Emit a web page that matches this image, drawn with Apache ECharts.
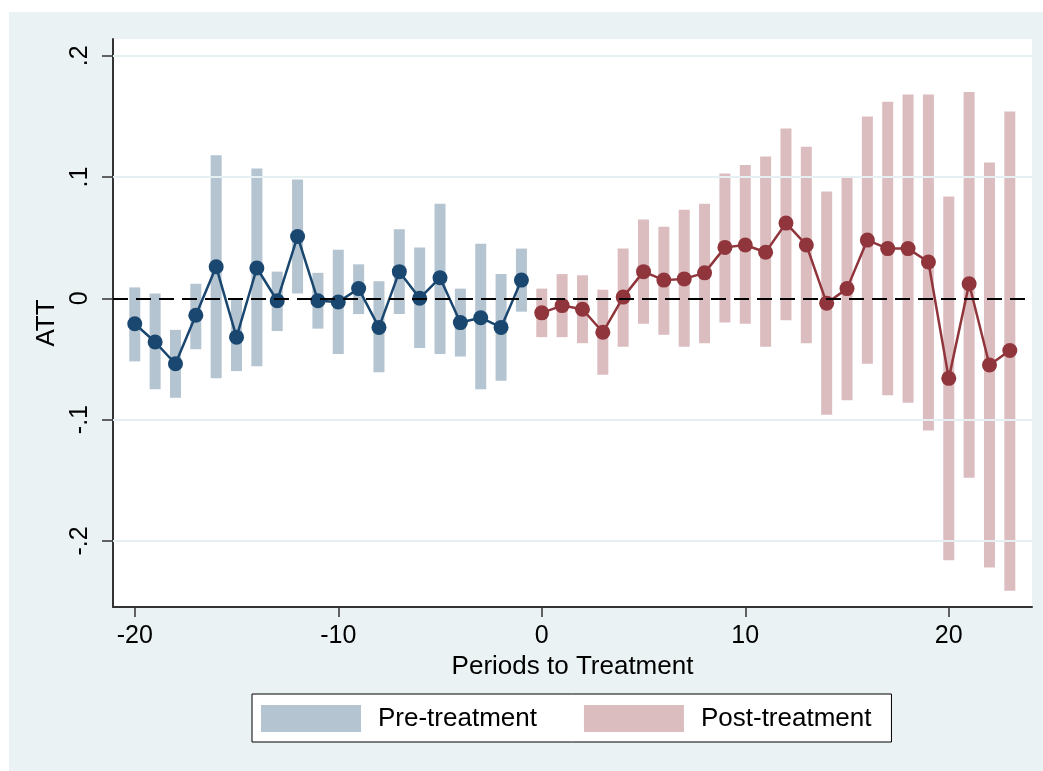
<!DOCTYPE html>
<html>
<head>
<meta charset="utf-8">
<script src="https://cdn.jsdelivr.net/npm/echarts@6/dist/echarts.min.js"></script>
<style>
  html, body { margin: 0; padding: 0; background: #ffffff; }
  #bg { position: absolute; left: 9px; top: 12px; width: 1034px; height: 759px; background: #EAF2F3; }
  #chart { position: absolute; left: 0; top: 0; width: 1043px; height: 771px; }
</style>
</head>
<body>
<div id="bg"></div>
<div id="chart"></div>
<script>
// ---- data ----
const periodsPre = [-20, -19, -18, -17, -16, -15, -14, -13, -12, -11, -10, -9, -8, -7, -6, -5, -4, -3, -2, -1];
const attPre   = [-0.021, -0.036, -0.054, -0.014, 0.026, -0.032, 0.025, -0.002, 0.051, -0.002, -0.003, 0.008, -0.024, 0.022, 0.000, 0.017, -0.020, -0.016, -0.024, 0.015];
const ciHighPre = [0.009, 0.004, -0.026, 0.012, 0.118, -0.001, 0.107, 0.022, 0.098, 0.021, 0.040, 0.028, 0.014, 0.057, 0.042, 0.078, 0.008, 0.045, 0.020, 0.041];
const ciLowPre  = [-0.052, -0.075, -0.082, -0.042, -0.066, -0.060, -0.056, -0.027, 0.004, -0.025, -0.046, -0.013, -0.061, -0.013, -0.041, -0.046, -0.048, -0.075, -0.068, -0.011];

const periodsPost = [0, 1, 2, 3, 4, 5, 6, 7, 8, 9, 10, 11, 12, 13, 14, 15, 16, 17, 18, 19, 20, 21, 22, 23];
const attPost   = [-0.012, -0.006, -0.009, -0.028, 0.001, 0.022, 0.015, 0.016, 0.021, 0.042, 0.044, 0.038, 0.062, 0.044, -0.004, 0.008, 0.048, 0.041, 0.041, 0.030, -0.066, 0.012, -0.055, -0.043];
const ciHighPost = [0.008, 0.020, 0.019, 0.007, 0.041, 0.065, 0.059, 0.073, 0.078, 0.103, 0.110, 0.117, 0.140, 0.125, 0.088, 0.100, 0.150, 0.162, 0.168, 0.168, 0.084, 0.170, 0.112, 0.154];
const ciLowPost  = [-0.032, -0.032, -0.037, -0.063, -0.040, -0.021, -0.030, -0.040, -0.037, -0.020, -0.021, -0.040, -0.018, -0.037, -0.096, -0.084, -0.054, -0.080, -0.086, -0.109, -0.216, -0.148, -0.222, -0.241];

const xTicks = [-20, -10, 0, 10, 20];
const xTickLabels = ['-20', '-10', '0', '10', '20'];
const yTicks = [-0.2, -0.1, 0, 0.1, 0.2];
const yTickLabels = ['-.2', '-.1', '0', '.1', '.2'];
const gridValues = [-0.2, -0.1, 0.1, 0.2];
const refLineValue = 0;

const legendNames = ['Pre-treatment', 'Post-treatment'];
const xTitle = 'Periods to Treatment';
const yTitle = 'ATT';

// ---- styles ----
const FONT = '"Liberation Sans", Arial, Helvetica, sans-serif';
const navy = '#1A476F', maroon = '#90353B';
const preBar = '#B5C4D1', postBar = '#DBBDC0';
const gridCol = '#E6EFF1';

function ciData(px, lo, hi) { return px.map((p, i) => [p, lo[i], hi[i]]); }
function ptData(px, v) { return px.map((p, i) => [p, v[i]]); }

function barRenderer(fill) {
  return function (params, api) {
    const x = api.value(0), lo = api.value(1), hi = api.value(2);
    const top = api.coord([x, hi]);
    const bot = api.coord([x, lo]);
    const w = 11;
    return { type: 'rect', shape: { x: top[0] - w / 2, y: top[1], width: w, height: bot[1] - top[1] }, style: { fill: fill } };
  };
}

const chart = echarts.init(document.getElementById('chart'), null, { renderer: 'canvas' });
const option = {
  backgroundColor: 'transparent',
  animation: false,
  textStyle: { fontFamily: FONT },
  grid: { left: 113, top: 39, right: 11, bottom: 164, show: true, backgroundColor: '#ffffff', borderWidth: 0, containLabel: false },
  xAxis: {
    type: 'value', min: -21.07, max: 24.09,
    name: xTitle, nameLocation: 'middle', nameGap: 33,
    nameTextStyle: { fontSize: 26, color: '#000', fontFamily: FONT },
    axisLine: { show: true, onZero: false, lineStyle: { color: '#333', width: 2 } },
    axisTick: { show: true, length: 10, customValues: xTicks, lineStyle: { color: '#333', width: 1.5 } },
    axisLabel: { customValues: xTicks, margin: 17, fontSize: 25, color: '#000', fontFamily: FONT,
      formatter: v => xTickLabels[xTicks.indexOf(v)] },
    splitLine: { show: false }
  },
  yAxis: {
    type: 'value', min: -0.2545, max: 0.2138,
    name: yTitle, nameLocation: 'middle', nameGap: 41, nameRotate: 90,
    nameTextStyle: { fontSize: 26, color: '#000', fontFamily: FONT },
    axisLine: { show: true, onZero: false, lineStyle: { color: '#333', width: 2 } },
    axisTick: { show: true, length: 11, customValues: yTicks, lineStyle: { color: '#333', width: 1.5 } },
    axisLabel: { customValues: yTicks, rotate: 90, margin: 20, fontSize: 25, color: '#000', fontFamily: FONT,
      formatter: v => { const i = yTicks.findIndex(t => Math.abs(t - v) < 1e-9); return i >= 0 ? yTickLabels[i] : ''; } },
    splitLine: { show: false }
  },
  legend: {
    data: legendNames.map(n => ({ name: n, icon: 'rect' })),
    left: 252, top: 694,
    orient: 'horizontal',
    itemWidth: 100, itemHeight: 27, itemGap: 47,
    padding: [11, 20, 10, 9],
    backgroundColor: '#ffffff', borderColor: '#000', borderWidth: 1,
    textStyle: { fontSize: 26, color: '#000', fontFamily: FONT, padding: [0, 0, 0, 12] },
    selectedMode: false
  },
  series: [
    {
      type: 'line', name: 'gridlines', data: [], z: 1, silent: true,
      markLine: { silent: true, symbol: 'none', label: { show: false }, animation: false,
        lineStyle: { color: gridCol, width: 2, type: 'solid' },
        data: gridValues.map(v => ({ yAxis: v })) }
    },
    {
      type: 'custom', name: legendNames[0], z: 2,
      itemStyle: { color: preBar },
      encode: { x: 0, y: [1, 2] },
      data: ciData(periodsPre, ciLowPre, ciHighPre),
      renderItem: barRenderer(preBar)
    },
    {
      type: 'custom', name: legendNames[1], z: 2,
      itemStyle: { color: postBar },
      encode: { x: 0, y: [1, 2] },
      data: ciData(periodsPost, ciLowPost, ciHighPost),
      renderItem: barRenderer(postBar)
    },
    {
      type: 'line', name: 'ref', data: [], z: 3, silent: true,
      markLine: { silent: true, symbol: 'none', label: { show: false }, animation: false,
        lineStyle: { color: '#000', width: 2.2, type: [15, 8] },
        data: [{ yAxis: refLineValue }] }
    },
    {
      type: 'line', name: 'attPre', z: 4,
      data: ptData(periodsPre, attPre),
      symbol: 'circle', symbolSize: 15,
      lineStyle: { color: navy, width: 2.5 },
      itemStyle: { color: navy }
    },
    {
      type: 'line', name: 'attPost', z: 4,
      data: ptData(periodsPost, attPost),
      symbol: 'circle', symbolSize: 15,
      lineStyle: { color: maroon, width: 2.5 },
      itemStyle: { color: maroon }
    }
  ]
};
chart.setOption(option);
</script>
</body>
</html>
